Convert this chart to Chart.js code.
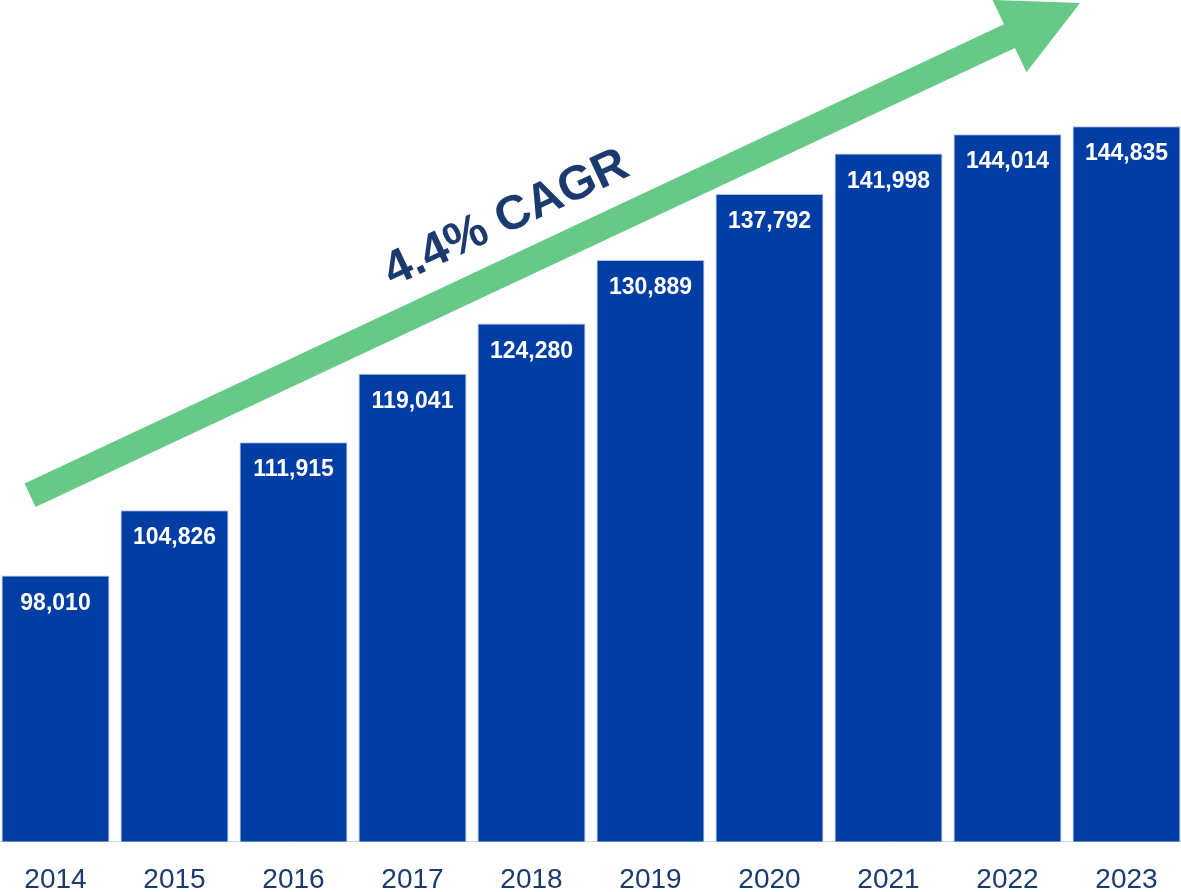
<!DOCTYPE html>
<html>
<head>
<meta charset="utf-8">
<script src="https://cdn.jsdelivr.net/npm/chart.js@4.4.1/dist/chart.umd.min.js"></script>
<style>
  html, body { margin: 0; padding: 0; background: #ffffff; overflow: hidden; height: 892px; }
  #wrap { position: absolute; left: -4px; top: 0; width: 1190px; height: 919px; }
</style>
</head>
<body>
<div id="wrap"><canvas id="chart"></canvas></div>
<script>
// Annual totals, 2014–2023
const years = ['2014', '2015', '2016', '2017', '2018', '2019', '2020', '2021', '2022', '2023'];
const totals = [98010, 104826, 111915, 119041, 124280, 130889, 137792, 141998, 144014, 144835];
const growthLabel = '4.4% CAGR';

const BAR_BLUE = '#003DA5';
const NAVY = '#1B3A6E';
const ARROW_GREEN = '#66C987';

// Value labels printed inside the top of each bar
const barValueLabels = {
  id: 'barValueLabels',
  afterDatasetsDraw(chart) {
    const { ctx } = chart;
    const meta = chart.getDatasetMeta(0);
    ctx.save();
    ctx.fillStyle = '#ffffff';
    ctx.font = 'bold 23px "Liberation Sans", Arial, sans-serif';
    ctx.textAlign = 'center';
    ctx.textBaseline = 'alphabetic';
    meta.data.forEach((bar, i) => {
      const v = chart.data.datasets[0].data[i];
      ctx.fillText(v.toLocaleString('en-US'), bar.x, bar.y + 34);
    });
    ctx.restore();
  }
};

// Rising trend arrow with the growth rate written along it
const trendArrow = {
  id: 'trendArrow',
  beforeDatasetsDraw(chart) {
    const { ctx, chartArea: a } = chart;
    const w = a.right - a.left, h = a.bottom - a.top;
    const tail = { x: a.left + w * 0.0286, y: a.top + h * 0.5886 };
    const tip = { x: a.left + w * 0.911, y: a.top + h * 0.0036 };
    const dx = tip.x - tail.x, dy = tip.y - tail.y;
    const len = Math.hypot(dx, dy);
    const ux = dx / len, uy = dy / len;
    const nx = -uy, ny = ux;
    const shaftHalf = 13, headHalf = 40, headLen = 78;
    const bx = tip.x - ux * headLen, by = tip.y - uy * headLen;
    ctx.save();
    ctx.fillStyle = ARROW_GREEN;
    ctx.beginPath();
    ctx.moveTo(tail.x + nx * shaftHalf, tail.y + ny * shaftHalf);
    ctx.lineTo(bx + nx * shaftHalf, by + ny * shaftHalf);
    ctx.lineTo(bx + nx * headHalf, by + ny * headHalf);
    ctx.lineTo(tip.x, tip.y);
    ctx.lineTo(bx - nx * headHalf, by - ny * headHalf);
    ctx.lineTo(bx - nx * shaftHalf, by - ny * shaftHalf);
    ctx.lineTo(tail.x - nx * shaftHalf, tail.y - ny * shaftHalf);
    ctx.closePath();
    ctx.fill();

    // growth rate text, parallel to the arrow
    const cx = a.left + w * 0.429, cy = a.top + h * 0.260;
    ctx.translate(cx, cy);
    ctx.rotate(Math.atan2(dy, dx));
    ctx.fillStyle = NAVY;
    ctx.font = 'bold 48px "Liberation Sans", Arial, sans-serif';
    ctx.textAlign = 'center';
    ctx.textBaseline = 'middle';
    ctx.fillText(growthLabel, 0, 0);
    ctx.restore();
  }
};

new Chart(document.getElementById('chart'), {
  type: 'bar',
  data: {
    labels: years,
    datasets: [{
      data: totals,
      backgroundColor: BAR_BLUE,
      borderColor: 'rgba(140,165,220,0.7)',
      borderWidth: 1,
      borderSkipped: false,
      categoryPercentage: 1.0,
      barPercentage: 0.907
    }]
  },
  options: {
    responsive: true,
    maintainAspectRatio: false,
    animation: false,
    layout: { padding: 0 },
    plugins: {
      legend: { display: false },
      tooltip: { enabled: false }
    },
    scales: {
      x: {
        grid: { display: false, drawTicks: false },
        border: { display: true, color: '#C8D5EE', width: 1 },
        ticks: {
          color: NAVY,
          padding: 22,
          font: { family: '"Liberation Sans", Arial, sans-serif', size: 28 }
        }
      },
      y: {
        display: false,
        min: 70300,
        max: 158000
      }
    }
  },
  plugins: [trendArrow, barValueLabels]
});
</script>
</body>
</html>
